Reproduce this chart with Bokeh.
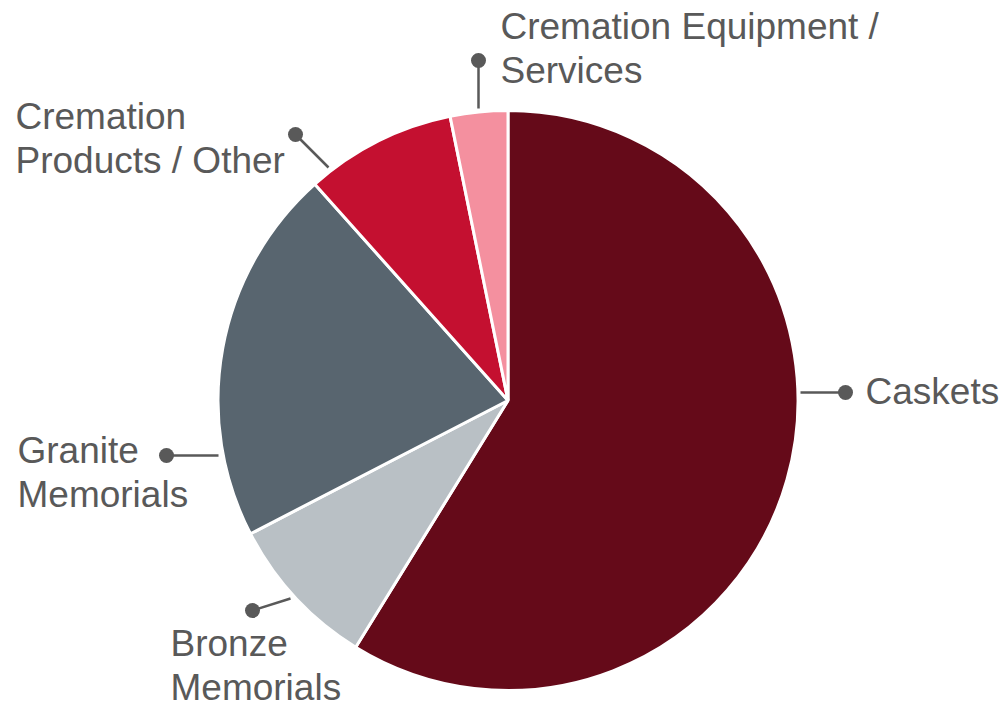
import math
from bokeh.plotting import figure
from bokeh.models import Range1d, ColumnDataSource
from bokeh.core.properties import value
from bokeh.embed import file_html
from bokeh.resources import INLINE

# ---- data ----
categories = ["Caskets", "Bronze\nMemorials", "Granite\nMemorials",
              "Cremation\nProducts / Other", "Cremation Equipment /\nServices"]
shares = [58.8, 8.6, 21.0, 8.4, 3.2]
colors = ["#650a19", "#b9c0c5", "#58656f", "#c41030", "#f4909f"]

# ---- layout (pixel coordinates, y measured from top) ----
W, H = 1005, 707
CX, CY, R = 507.5, 400, 290
label_x = [865, 170, 17, 15, 500]
label_baseline = [391, 643, 450, 116, 26]
line_gap = 44
leader_start = [(800, 392), (290, 598), (218, 455), (328, 167), (478, 108)]
leader_dot = [(845, 392), (252, 610), (166, 455), (295, 134), (478, 60)]
TEXT_COLOR = "#595959"

def fy(y):
    return H - y

p = figure(width=W, height=H, x_range=Range1d(0, W), y_range=Range1d(0, H),
           x_axis_type=None, y_axis_type=None, toolbar_location=None,
           output_backend="svg", min_border=0)
p.outline_line_color = None
p.grid.visible = False
p.background_fill_color = "white"
p.border_fill_color = "white"

total = sum(shares)
starts, ends = [], []
cum = 0.0
for s in shares:
    starts.append(math.pi / 2 - 2 * math.pi * cum / total)
    cum += s
    ends.append(math.pi / 2 - 2 * math.pi * cum / total)

src = ColumnDataSource(dict(start=starts, end=ends, color=colors, name=categories))
p.wedge(x=CX, y=fy(CY), radius=R, start_angle="start", end_angle="end",
        direction="clock", fill_color="color", line_color="white", line_width=3,
        source=src)

# leaders
p.segment(x0=[a[0] for a in leader_start], y0=[fy(a[1]) for a in leader_start],
          x1=[b[0] for b in leader_dot], y1=[fy(b[1]) for b in leader_dot],
          line_color=TEXT_COLOR, line_width=2.5)
p.scatter(x=[b[0] for b in leader_dot], y=[fy(b[1]) for b in leader_dot],
          size=15, fill_color=TEXT_COLOR, line_color=None)

# labels
tx, ty, tt = [], [], []
for name, lx, lb in zip(categories, label_x, label_baseline):
    for i, line in enumerate(name.split("\n")):
        tx.append(lx)
        ty.append(fy(lb + i * line_gap))
        tt.append(line)
p.text(x=tx, y=ty, text=tt, text_font=value("Liberation Sans"),
       text_font_size="37px", text_color=TEXT_COLOR, text_baseline="alphabetic",
       text_align="left")

open("out.html", "w").write(file_html(p, INLINE))
